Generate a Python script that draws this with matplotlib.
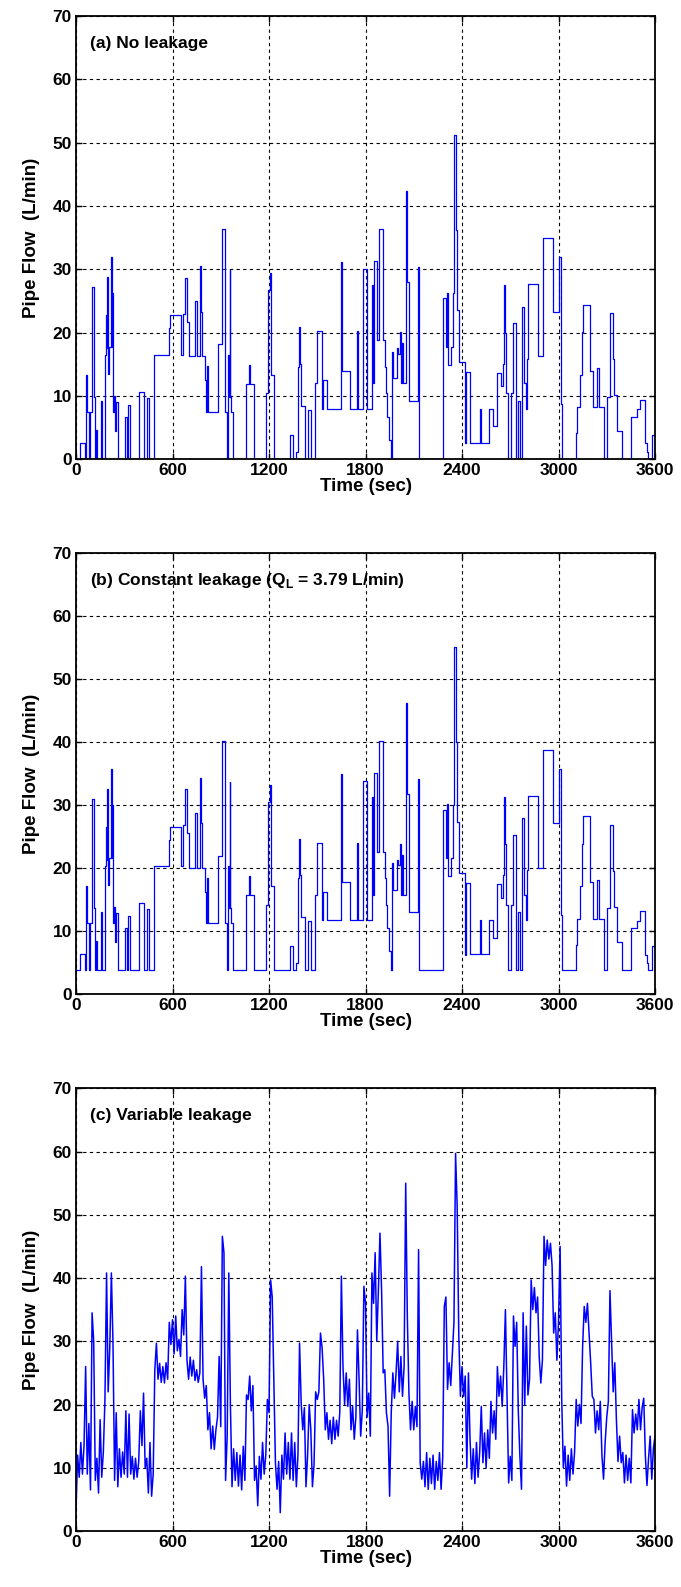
import numpy as np
import matplotlib
matplotlib.use("Agg")
import matplotlib.pyplot as plt

plt.rcParams['font.family'] = ['Liberation Sans', 'DejaVu Sans']
plt.rcParams['font.weight'] = 'bold'
plt.rcParams['mathtext.fontset'] = 'custom'
plt.rcParams['mathtext.bf'] = 'Liberation Sans:bold'
plt.rcParams['mathtext.rm'] = 'Liberation Sans:bold'

# ---------------- data ----------------
# (a) no leakage: step changes (time in s, flow in L/min)
a_time = [0, 25, 56, 62, 70, 81, 87, 97, 114, 120, 126, 133, 153, 164, 178, 184, 191, 195,
          201, 205, 216, 222, 226, 232, 238, 244, 249, 259, 305, 315, 325, 338, 394, 423,
          444, 456, 487, 576, 584, 653, 667, 678, 692, 705, 740, 752, 771, 777, 786, 802,
          808, 812, 823, 885, 906, 926, 937, 943, 949, 955, 960, 964, 976, 1055, 1074,
          1082, 1109, 1181, 1192, 1206, 1215, 1233, 1329, 1349, 1370, 1378, 1385, 1390,
          1399, 1424, 1445, 1461, 1486, 1499, 1528, 1538, 1559, 1646, 1650, 1654, 1704,
          1745, 1756, 1787, 1807, 1838, 1845, 1853, 1870, 1886, 1907, 1921, 1928, 1936,
          1948, 1957, 1963, 1973, 1994, 2004, 2015, 2019, 2025, 2030, 2035, 2052, 2060,
          2073, 2129, 2135, 2284, 2299, 2305, 2311, 2330, 2342, 2350, 2363, 2371, 2380,
          2419, 2425, 2450, 2514, 2518, 2570, 2595, 2616, 2641, 2653, 2661, 2668, 2674,
          2688, 2703, 2715, 2736, 2748, 2761, 2771, 2786, 2795, 2802, 2813, 2875, 2906,
          2964, 3005, 3014, 3024, 3107, 3113, 3134, 3144, 3155, 3196, 3217, 3238, 3250,
          3283, 3300, 3320, 3337, 3345, 3362, 3393, 3451, 3490, 3507, 3538, 3548, 3559,
          3584, 3600]
a_flow = [0, 2.6, 0, 13.3, 7.5, 0, 7.5, 27.2, 9.9, 0, 4.6, 0, 9.2, 0, 16.5, 22.8, 17.5, 28.8,
          13.5, 17.8, 32.0, 17.8, 26.2, 7.5, 10.0, 4.5, 9.1, 0, 6.7, 0, 8.6, 0, 10.7, 0,
          9.7, 0, 16.5, 20.7, 22.8, 16.5, 23.0, 28.7, 21.7, 16.3, 25.0, 16.3, 30.5, 23.3,
          16.3, 12.5, 7.5, 14.7, 7.5, 18.2, 36.3, 7.5, 0, 16.5, 9.9, 29.9, 9.9, 7.5, 0,
          11.9, 14.9, 11.9, 0, 10.4, 26.7, 29.4, 13.3, 0, 3.8, 0, 1.2, 14.6, 20.9, 15.1,
          8.4, 0, 7.8, 0, 12.0, 20.2, 8.0, 12.5, 8.0, 19.6, 31.2, 14.0, 8.0, 20.2, 8.0,
          30.1, 8.0, 27.5, 12.0, 31.3, 18.8, 36.4, 18.8, 14.6, 10.4, 6.7, 3.0, 0, 17.0,
          12.8, 17.5, 16.7, 20.1, 12.0, 16.2, 18.3, 12.0, 42.4, 28.0, 9.2, 30.4, 0, 25.4,
          17.8, 26.3, 14.9, 17.8, 26.2, 51.2, 36.2, 23.6, 15.4, 2.5, 13.8, 2.6, 8.0, 2.6,
          8.0, 5.2, 13.7, 11.5, 15.1, 27.5, 20.0, 10.4, 0, 10.4, 21.5, 0, 9.2, 0, 24.1,
          12.0, 8.0, 15.9, 27.7, 16.3, 35.0, 23.3, 32.0, 8.8, 0, 4.1, 8.2, 13.3, 20.1,
          24.4, 14.0, 8.2, 14.4, 8.2, 0, 9.9, 23.1, 15.8, 10.1, 4.5, 0, 6.7, 7.9, 9.4,
          2.5, 1.2, 0, 3.8, 3.8]

# (b) constant leakage added to the no-leakage flow
QL = 3.79

# (c) variable leakage: flow sampled every 10 s
c_step = 10
c_flow = [
    3.4, 12, 8.5, 14, 9, 13.5, 26, 9, 17, 6.5,
    34.5, 30, 8, 11.5, 6, 17.6, 8.5, 12.5, 20.8, 40.8,
    22, 29, 40.8, 29.7, 8, 18.7, 7, 13, 8.5, 12.5,
    9, 19, 8.5, 18.5, 9, 11.8, 8.2, 11.5, 8.5, 11,
    19, 13.5, 21.8, 10, 11.5, 6, 14, 5.5, 9, 25.5,
    29.7, 24, 26.5, 23.5, 26, 23.4, 26.6, 24, 33, 29.5,
    33.4, 28, 34, 28.5, 30.3, 27.6, 35, 31, 40.3, 27,
    24, 27.5, 24.5, 27, 23.8, 25.5, 23.5, 25, 41.8, 24,
    21, 23, 16, 18.7, 13, 16.6, 12.9, 16, 18, 27.6,
    16.5, 46.6, 44, 8, 15, 40.8, 20, 7, 13, 8,
    12.4, 7.1, 12, 6.5, 13.4, 8, 21.5, 20.8, 24.5, 19,
    23, 8, 10.3, 4, 11.8, 8.2, 14, 9, 12, 20.8,
    18.7, 39.7, 37, 24, 10.8, 6.6, 11, 2.9, 12, 8.2,
    15.5, 9, 14, 8.2, 15.5, 8, 14, 7, 12, 29.7,
    20.3, 16, 19.5, 7, 12, 20, 16, 7, 10.5, 22,
    20.8, 22, 31.3, 29, 24, 16, 18.7, 14.5, 17.5, 13.8,
    18, 14.5, 17.5, 15, 18.7, 40.3, 26, 20, 25, 19.7,
    24, 16, 19.7, 14.5, 18, 31.8, 24, 15, 19, 38.7,
    36, 18, 21.8, 15, 40.8, 36, 44, 30, 38, 47.1,
    38, 25, 25.5, 18.7, 16.6, 5.5, 18.7, 25, 21, 25,
    30, 22, 27.6, 21.3, 26, 55, 34, 21.8, 16, 20.5,
    16, 19.7, 16.5, 44.5, 10.8, 8.2, 11, 7, 12.4, 6.6,
    11.5, 7.5, 12, 6.6, 11, 8, 12.4, 6.6, 11.5, 35.5,
    37, 22.4, 26.6, 23, 28, 33, 59.7, 51.3, 31, 21.3,
    26, 21.3, 24.5, 10, 25, 14.5, 8.2, 13, 7.5, 14,
    8.5, 12.5, 19.7, 10.8, 15.5, 10, 16, 11.5, 20.5, 15.5,
    19, 14.5, 26, 21.3, 24.5, 19.7, 26, 35, 21, 7.6,
    11.8, 8, 34, 29.2, 33, 19, 11.8, 6.6, 34.5, 20,
    32.4, 21.5, 24, 39.7, 35, 38.5, 34.5, 37, 27.6, 23.4,
    27, 46.6, 42, 46, 43, 45.5, 42, 31.3, 34.5, 27,
    33, 45, 20.8, 10, 13.4, 7.1, 12, 8, 13, 9,
    12.5, 20.8, 16.6, 20, 17, 29.2, 35.5, 33, 36, 31.3,
    26.6, 21.3, 20.8, 15.5, 19, 16, 20.5, 12, 8.2, 14,
    18, 20.5, 38, 30, 22, 26.6, 17.6, 11, 15, 10.8,
    12.4, 7.6, 12, 8, 11.5, 7.6, 19.2, 15.5, 18.5, 16,
    20.8, 16, 19.5, 21, 12, 7.2, 11.5, 15, 8.2, 13,
    15]
c_time = np.arange(len(c_flow)) * c_step

labels = ["(a) No leakage",
          r"(b) Constant leakage (Q$_\mathbf{L}$ = 3.79 L/min)",
          "(c) Variable leakage"]

# ---------------- figure ----------------
fig = plt.figure(figsize=(6.81, 15.87), dpi=100)
W, H = 681.0, 1587.0
boxes = [(16.0, 459.3), (552.7, 994.3), (1088.3, 1531.0)]
left, right = 76.0, 655.0

a_t = np.array(a_time)
a_v = np.array(a_flow)
series = [(a_t, a_v, 'post', 0.9), (a_t, a_v + QL, 'post', 0.9),
          (c_time, np.array(c_flow), None, 1.1)]

for (top, bot), (tt, vv, st, lw), lab in zip(boxes, series, labels):
    ax = fig.add_axes([left / W, 1 - bot / H, (right - left) / W, (bot - top) / H])
    if st:
        ax.step(tt, vv, where=st, color='#0000ff', lw=lw)
    else:
        ax.plot(tt, vv, color='#0000ff', lw=lw)
    ax.set_xlim(0, 3600)
    ax.set_ylim(0, 70)
    ax.set_xticks(np.arange(0, 3601, 600))
    ax.set_yticks(np.arange(0, 71, 10))
    ax.grid(True, color='black', linestyle=(0, (3, 3)), lw=0.8)
    ax.tick_params(direction='in', top=True, right=True, length=4, width=1,
                   labelsize=12.5, pad=3)
    for sp in ax.spines.values():
        sp.set_linewidth(1.3)
    ax.set_xlabel("Time (sec)", fontsize=13.5, fontweight='bold', labelpad=0)
    ax.set_ylabel("Pipe Flow  (L/min)", fontsize=13.5, fontweight='bold', labelpad=9)
    ax.text(0.024, 0.938, lab, transform=ax.transAxes, fontsize=12.5,
            fontweight='bold', va='center', ha='left')

fig.savefig("out.png", dpi=100)
